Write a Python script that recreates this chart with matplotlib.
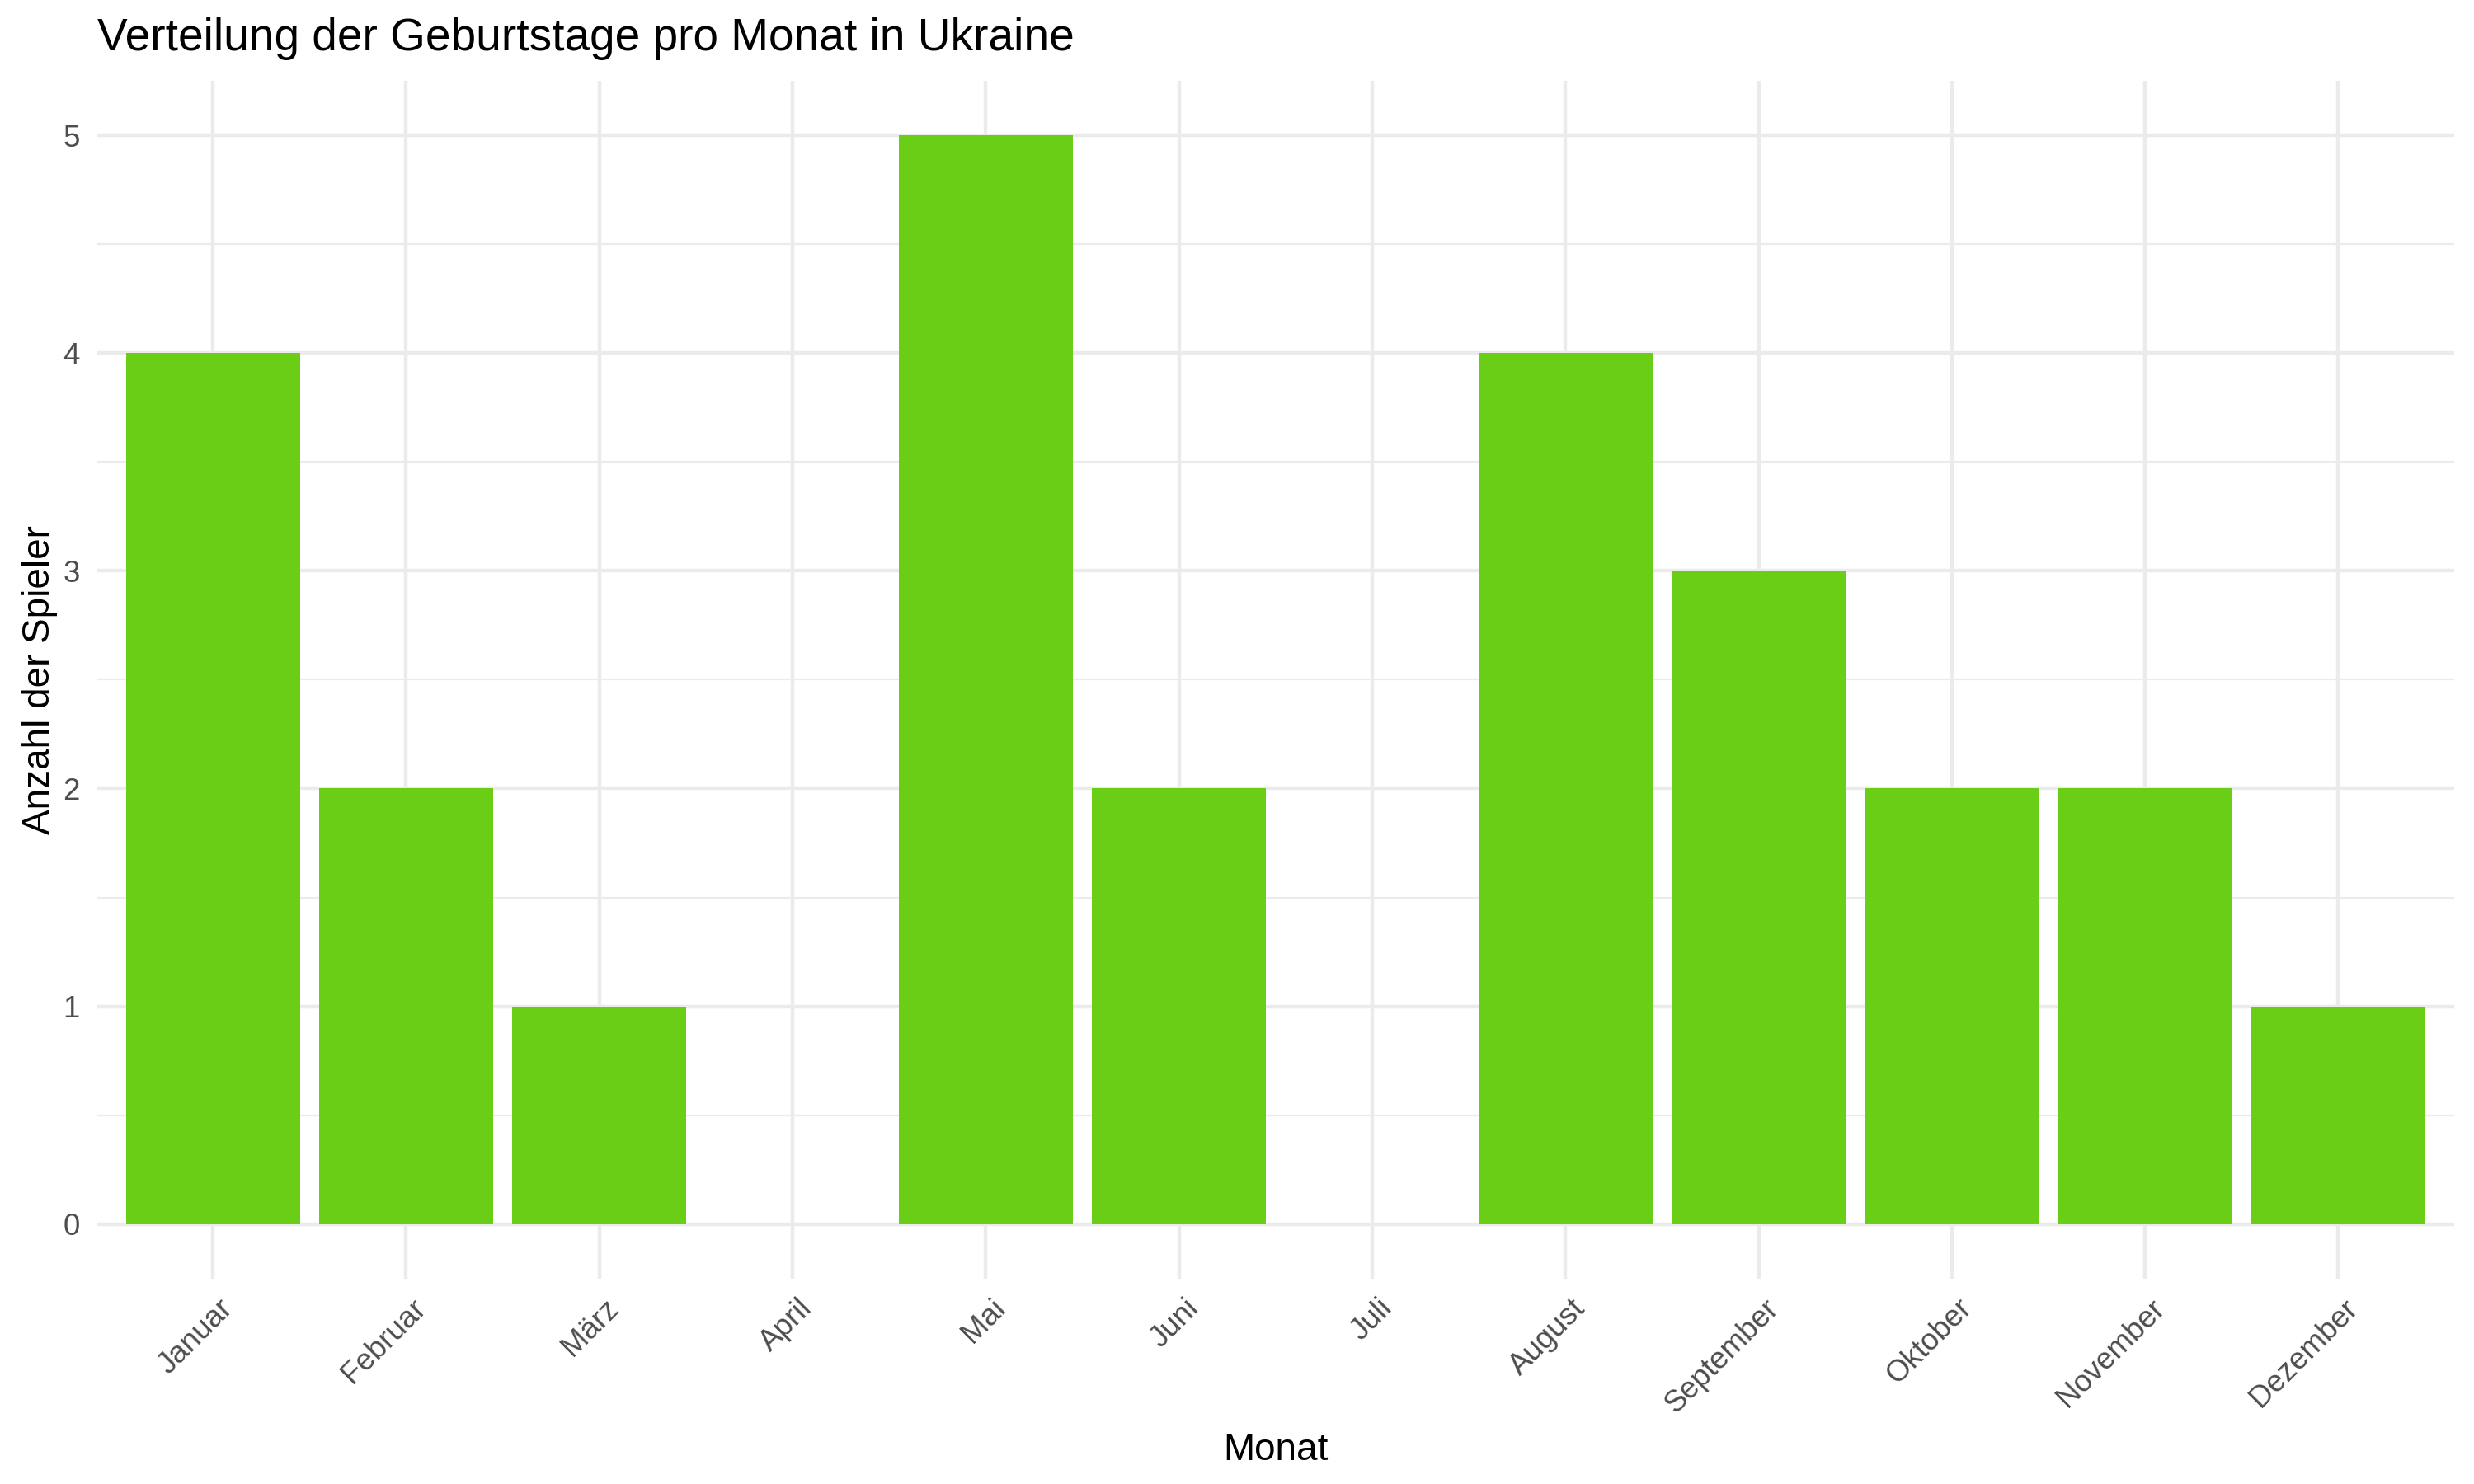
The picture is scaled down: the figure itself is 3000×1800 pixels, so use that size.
import numpy as np
import matplotlib
matplotlib.use('Agg')
import matplotlib.pyplot as plt
import matplotlib.transforms as mtrans
from matplotlib.ticker import MultipleLocator

plt.rcParams['font.family'] = ['Liberation Sans', 'DejaVu Sans']

months = ['Januar', 'Februar', 'März', 'April', 'Mai', 'Juni', 'Juli',
          'August', 'September', 'Oktober', 'November', 'Dezember']
counts = [4, 2, 1, 0, 5, 2, 0, 4, 3, 2, 2, 1]

barColour = '#6ACE17'
gridColour = '#EBEBEB'

fig = plt.figure(figsize = (10, 6), dpi = 300, facecolor = 'white')
ax = fig.add_axes([0.0392, 0.1386, 0.9528, 0.8067])

x = np.arange(len(months))
ax.bar(x, counts, width = 0.9, color = barColour, zorder = 2)

ax.set_xlim(-0.6, len(months) - 0.4)
ax.set_ylim(-0.25, 5.25)

ax.set_xticks(x)
ax.set_xticklabels(months, rotation = 45, ha = 'right', va = 'top',
                   rotation_mode = 'anchor', fontsize = 8.8, color = '#4D4D4D')
ax.set_yticks(range(0, 6))
ax.set_yticklabels([str(i) for i in range(0, 6)], fontsize = 8.8, color = '#4D4D4D')
ax.yaxis.set_minor_locator(MultipleLocator(0.5))

ax.tick_params(axis = 'both', which = 'both', length = 0)
ax.tick_params(axis = 'x', pad = 4.5)
ax.tick_params(axis = 'y', pad = 5)
# nudge the rotated month labels a touch right, like ggplot's hjust = 1
offset = mtrans.ScaledTranslation(1.5 / 72., 0, fig.dpi_scale_trans)
for lbl in ax.get_xticklabels():
    lbl.set_transform(lbl.get_transform() + offset)

ax.set_axisbelow(True)
ax.grid(which = 'major', axis = 'both', color = gridColour, linewidth = 1.07)
ax.grid(which = 'minor', axis = 'y', color = gridColour, linewidth = 0.53)

for s in ax.spines.values():
    s.set_visible(False)

ax.set_xlabel('Monat', fontsize = 11, labelpad = 4)
ax.set_ylabel('Anzahl der Spieler', fontsize = 11, labelpad = 1.5)
ax.set_title('Verteilung der Geburtstage pro Monat in Ukraine', fontsize = 13.2,
             loc = 'left', pad = 9)

fig.savefig('out.png', dpi = 300, facecolor = 'white')
